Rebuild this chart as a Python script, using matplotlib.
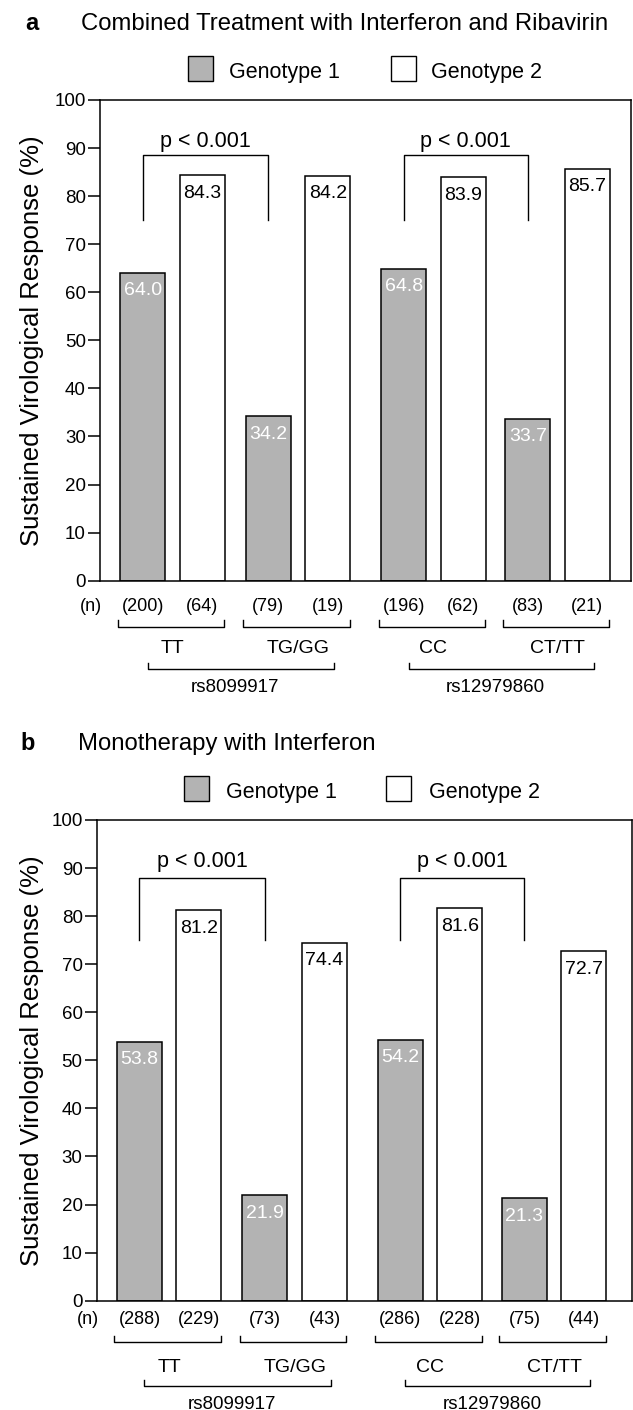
import matplotlib
matplotlib.use("Agg")
import matplotlib.pyplot as plt
from matplotlib.patches import Rectangle

plt.rcParams['font.family'] = ['Liberation Sans', 'DejaVu Sans']

# ---------------- data ----------------
snp_labels = ["rs8099917", "rs12979860"]
allele_labels = ["TT", "TG/GG", "CC", "CT/TT"]
series_labels = ["Genotype 1", "Genotype 2"]
y_ticks = [0, 10, 20, 30, 40, 50, 60, 70, 80, 90, 100]

combo_title = "Combined Treatment with Interferon and Ribavirin"
combo_g1 = [64.0, 34.2, 64.8, 33.7]
combo_g2 = [84.3, 84.2, 83.9, 85.7]
combo_n_g1 = ["(200)", "(79)", "(196)", "(83)"]
combo_n_g2 = ["(64)", "(19)", "(62)", "(21)"]

mono_title = "Monotherapy with Interferon"
mono_g1 = [53.8, 21.9, 54.2, 21.3]
mono_g2 = [81.2, 74.4, 81.6, 72.7]
mono_n_g1 = ["(288)", "(73)", "(286)", "(75)"]
mono_n_g2 = ["(229)", "(43)", "(228)", "(44)"]

p_labels = ["p < 0.001", "p < 0.001"]
ylabel = "Sustained Virological Response (%)"

# ---------------- layout ----------------
W, H, DPI = 633, 1410, 100
GRAY = "#b3b3b3"
fig = plt.figure(figsize=(W / DPI, H / DPI), dpi=DPI)

pair_centers = [72.5, 198.0, 333.5, 457.5]   # pixel offsets from left spine
half_gap = 29.75
bar_w = 45.0


def fx(x):
    return x / W


def fy(y):
    return 1 - y / H


def panel(rect, g1, g2, n1, n2, letter, title, title_base, legend_base,
          legend_sq, legend_txt, p_top, ys):
    l, t, r, b = rect
    ax = fig.add_axes([fx(l), fy(b), (r - l) / W, (b - t) / H])
    ax.set_xlim(0, r - l)
    ax.set_ylim(0, 100)
    x1 = [c - half_gap for c in pair_centers]
    x2 = [c + half_gap for c in pair_centers]
    ax.bar(x1, g1, width=bar_w, color=GRAY, edgecolor="black", linewidth=1.1, zorder=2)
    ax.bar(x2, g2, width=bar_w, color="white", edgecolor="black", linewidth=1.1, zorder=2)
    for x, v in zip(x1, g1):
        ax.text(x, v - 3.7, f"{v:.1f}", ha="center", va="center", color="white", fontsize=14, zorder=3)
    for x, v in zip(x2, g2):
        ax.text(x, v - 3.7, f"{v:.1f}", ha="center", va="center", color="black", fontsize=14, zorder=3)

    # p-value brackets
    for k, (a, c) in enumerate([(x1[0], x1[1]), (x1[2], x1[3])]):
        ax.plot([a, a, c, c], [75, p_top, p_top, 75], color="black", lw=1.0)
        ax.text((a + c) / 2, 90.2, p_labels[k], ha="center", va="baseline", fontsize=15.5)

    for s in ax.spines.values():
        s.set_linewidth(1.1)
    ax.set_xticks([])
    ax.set_yticks(y_ticks)
    ax.tick_params(axis="y", length=8.6, width=1.1, pad=1.5, labelsize=13.5)

    n_y, br1, br1t, geno_y, br2, br2t, rs_y = ys
    kw = dict(clip_on=False, color="black", lw=1.0)
    ax.text(-9, n_y, "(n)", ha="center", va="center", fontsize=13, clip_on=False)
    for i in range(4):
        ax.text(x1[i], n_y, n1[i], ha="center", va="center", fontsize=13, clip_on=False)
        ax.text(x2[i], n_y, n2[i], ha="center", va="center", fontsize=13, clip_on=False)
        a, c = x1[i] - 25, x2[i] + 22
        ax.plot([a, a, c, c], [br1t, br1, br1, br1t], **kw)
        ax.text(pair_centers[i], geno_y, allele_labels[i], ha="center", va="center", fontsize=14, clip_on=False)
    for j in range(2):
        p, q = pair_centers[2 * j], pair_centers[2 * j + 1]
        a, c = p - 25, q + 36
        ax.plot([a, a, c, c], [br2t, br2, br2, br2t], **kw)
        ax.text((p + q) / 2, rs_y, snp_labels[j], ha="center", va="center", fontsize=13.5, clip_on=False)

    # title & letter
    fig.text(fx(title[0]), fy(title_base), title[1], ha="left", va="baseline", fontsize=17.2)
    fig.text(fx(letter[0]), fy(title_base), letter[1], ha="left", va="baseline", fontsize=17, fontweight="bold")

    # legend
    sq = 25
    for k, (sx, tx) in enumerate(zip(legend_sq, legend_txt)):
        fig.add_artist(Rectangle((fx(sx), fy(legend_base + 3)), sq / W, sq / H,
                                 transform=fig.transFigure, facecolor=GRAY if k == 0 else "white",
                                 edgecolor="black", linewidth=1.0))
        fig.text(fx(tx), fy(legend_base), series_labels[k], ha="left", va="baseline", fontsize=15.5)

    # y label
    fig.text(fx(32), fy((t + b) / 2), ylabel, rotation=90, ha="center", va="center", fontsize=18.5)
    return ax


panel((100, 100, 631, 580.7), combo_g1, combo_g2, combo_n_g1, combo_n_g2,
      (25, "a"), (81.5, combo_title), 30, 78, (188, 391), (229, 431), 88.5,
      (-5.3, -9.6, -8.2, -14.2, -18.4, -17.1, -22.2))
panel((96.7, 820, 631.8, 1300.7), mono_g1, mono_g2, mono_n_g1, mono_n_g2,
      (20, "b"), (77.5, mono_title), 750, 798, (184, 386), (226, 429), 88.0,
      (-4.0, -8.6, -7.3, -13.8, -17.7, -16.5, -21.5))

fig.savefig("out.png", dpi=DPI)
